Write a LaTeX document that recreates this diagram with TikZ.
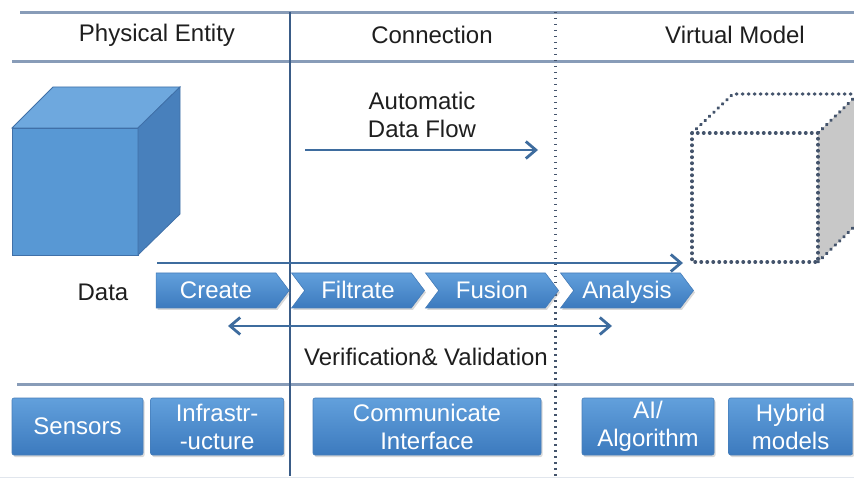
\documentclass[tikz,border=0pt]{standalone}
\usepackage{fontspec}
\setmainfont{Liberation Sans}
\usetikzlibrary{shapes.symbols,arrows.meta,positioning,shadows}
\definecolor{boxtop}{RGB}{98,160,220}
\definecolor{boxbot}{RGB}{60,122,190}
\definecolor{boxedge}{RGB}{70,125,185}
\definecolor{arrowblue}{RGB}{62,108,158}
\definecolor{rulegrey}{RGB}{136,156,184}
\definecolor{divblue}{RGB}{58,92,135}
\definecolor{dotgrey}{RGB}{68,84,108}
\definecolor{labelgrey}{RGB}{30,30,30}
\definecolor{cubefront}{RGB}{88,152,212}
\definecolor{cubetop}{RGB}{110,168,222}
\definecolor{cubeside}{RGB}{72,128,188}
\definecolor{cubeedge}{RGB}{64,112,168}
\definecolor{ghostside}{RGB}{200,200,200}

\begin{document}
\begin{tikzpicture}[x=1pt,y=-1pt,font=\fontsize{24}{28}\selectfont,
    lbl/.style={text=labelgrey,inner sep=0pt,align=center},
    rule/.style={draw=rulegrey,line width=3pt},
    dots/.style={draw=dotgrey,line width=3.4pt,line cap=round,dash pattern=on 0.5pt off 5.5pt},
    flow/.style={draw=arrowblue,line width=2.8pt,-{Straight Barb[length=10pt,width=17pt]}},
    chev/.style={signal,signal to=east,signal from=west,signal pointer angle=106,
                 minimum width=133pt,minimum height=35pt,inner sep=0pt,
                 text height=20pt,text depth=3pt,
                 top color=boxtop,bottom color=boxbot,draw=boxedge,line width=0.6pt,text=white,
                 drop shadow={opacity=0.3,shadow xshift=1.5pt,shadow yshift=-2pt}},
    tile/.style={rectangle,rounded corners=2pt,minimum height=57pt,inner sep=0pt,align=center,
                 top color=boxtop,bottom color=boxbot,draw=boxedge,line width=0.6pt,text=white,
                 drop shadow={opacity=0.3,shadow xshift=1.5pt,shadow yshift=-2pt}}]
\useasboundingbox (0,0) rectangle (854,478);
\clip (0,0) rectangle (854,478);

% header band and bottom band
\draw[rule] (20,12.5) -- (854,12.5);
\draw[rule] (12,62) -- (854,62);
\draw[rule] (17,384) -- (854,384);
\draw[rulegrey!25,line width=1pt] (0,477) -- (854,477);

\node[lbl] (phys) at (157,35) {Physical Entity};
\node[lbl] (conn) at (432,35) {Connection};
\node[lbl] (virt) at (735,35) {Virtual Model};

% physical cube
\fill[cubefront,draw=cubeedge,line width=0.8pt] (12,128) rectangle (138,255);
\fill[cubetop,draw=cubeedge,line width=0.8pt] (12,128) -- (53,87) -- (180,87) -- (138,128) -- cycle;
\fill[cubeside,draw=cubeedge,line width=0.8pt] (138,128) -- (180,87) -- (180,214) -- (138,255) -- cycle;

% virtual cube, only its outline
\fill[ghostside] (818,133) -- (858,94) -- (858,223) -- (818,262) -- cycle;
\draw[dots] (692,133) rectangle (818,262);
\draw[dots] (692,133) -- (733,94) -- (860,94);
\draw[dots] (818,133) -- (858,94);
\draw[dots] (818,262) -- (858,223);

% section dividers
\draw[divblue,line width=2.5pt] (290,12) -- (290,476);
\draw[dots,line width=3pt,dash pattern=on 1.5pt off 4.5pt,line cap=butt] (555,12) -- (555,478);

% data flow
\node[lbl] (auto) at (422,115) {Automatic\\Data Flow};
\coordinate (flowS) at (305,150);
\coordinate (flowE) at (538,150);
\draw[flow] (flowS) -- (flowE);

\coordinate (dataS) at (157,263);
\coordinate (dataE) at (683,263);
\draw[flow] (dataS) -- (dataE);

\node[lbl] (data) at (103,292) {Data};
\node[chev,signal from=nowhere] (create) at (216,290.5) {Create};
\node[chev] (filt) at (358,290.5) {Filtrate};
\node[chev] (fuse) at (492,290.5) {Fusion};
\node[chev] (anal) at (627,290.5) {Analysis};

\coordinate (vvL) at (228,326);
\coordinate (vvR) at (612,326);
\draw[flow,{Straight Barb[length=10pt,width=17pt]}-{Straight Barb[length=10pt,width=17pt]}] (vvL) -- (vvR);
\node[lbl] (vv) at (426,357) {Verification\& Validation};

% components
\node[tile,minimum width=131pt] (sens) at (77.5,426.5) {Sensors};
\node[tile,minimum width=133pt,right=7pt of sens] (infra) {Infrastr-\\-ucture};
\node[tile,minimum width=228pt] (comm) at (427,426.5) {Communicate\\Interface};
\node[tile,minimum width=132pt] (ai) at (648,426.5) {AI/\\Algorithm};
\node[tile,minimum width=124pt,right=14pt of ai] (hyb) {Hybrid\\models};
\end{tikzpicture}
\end{document}
